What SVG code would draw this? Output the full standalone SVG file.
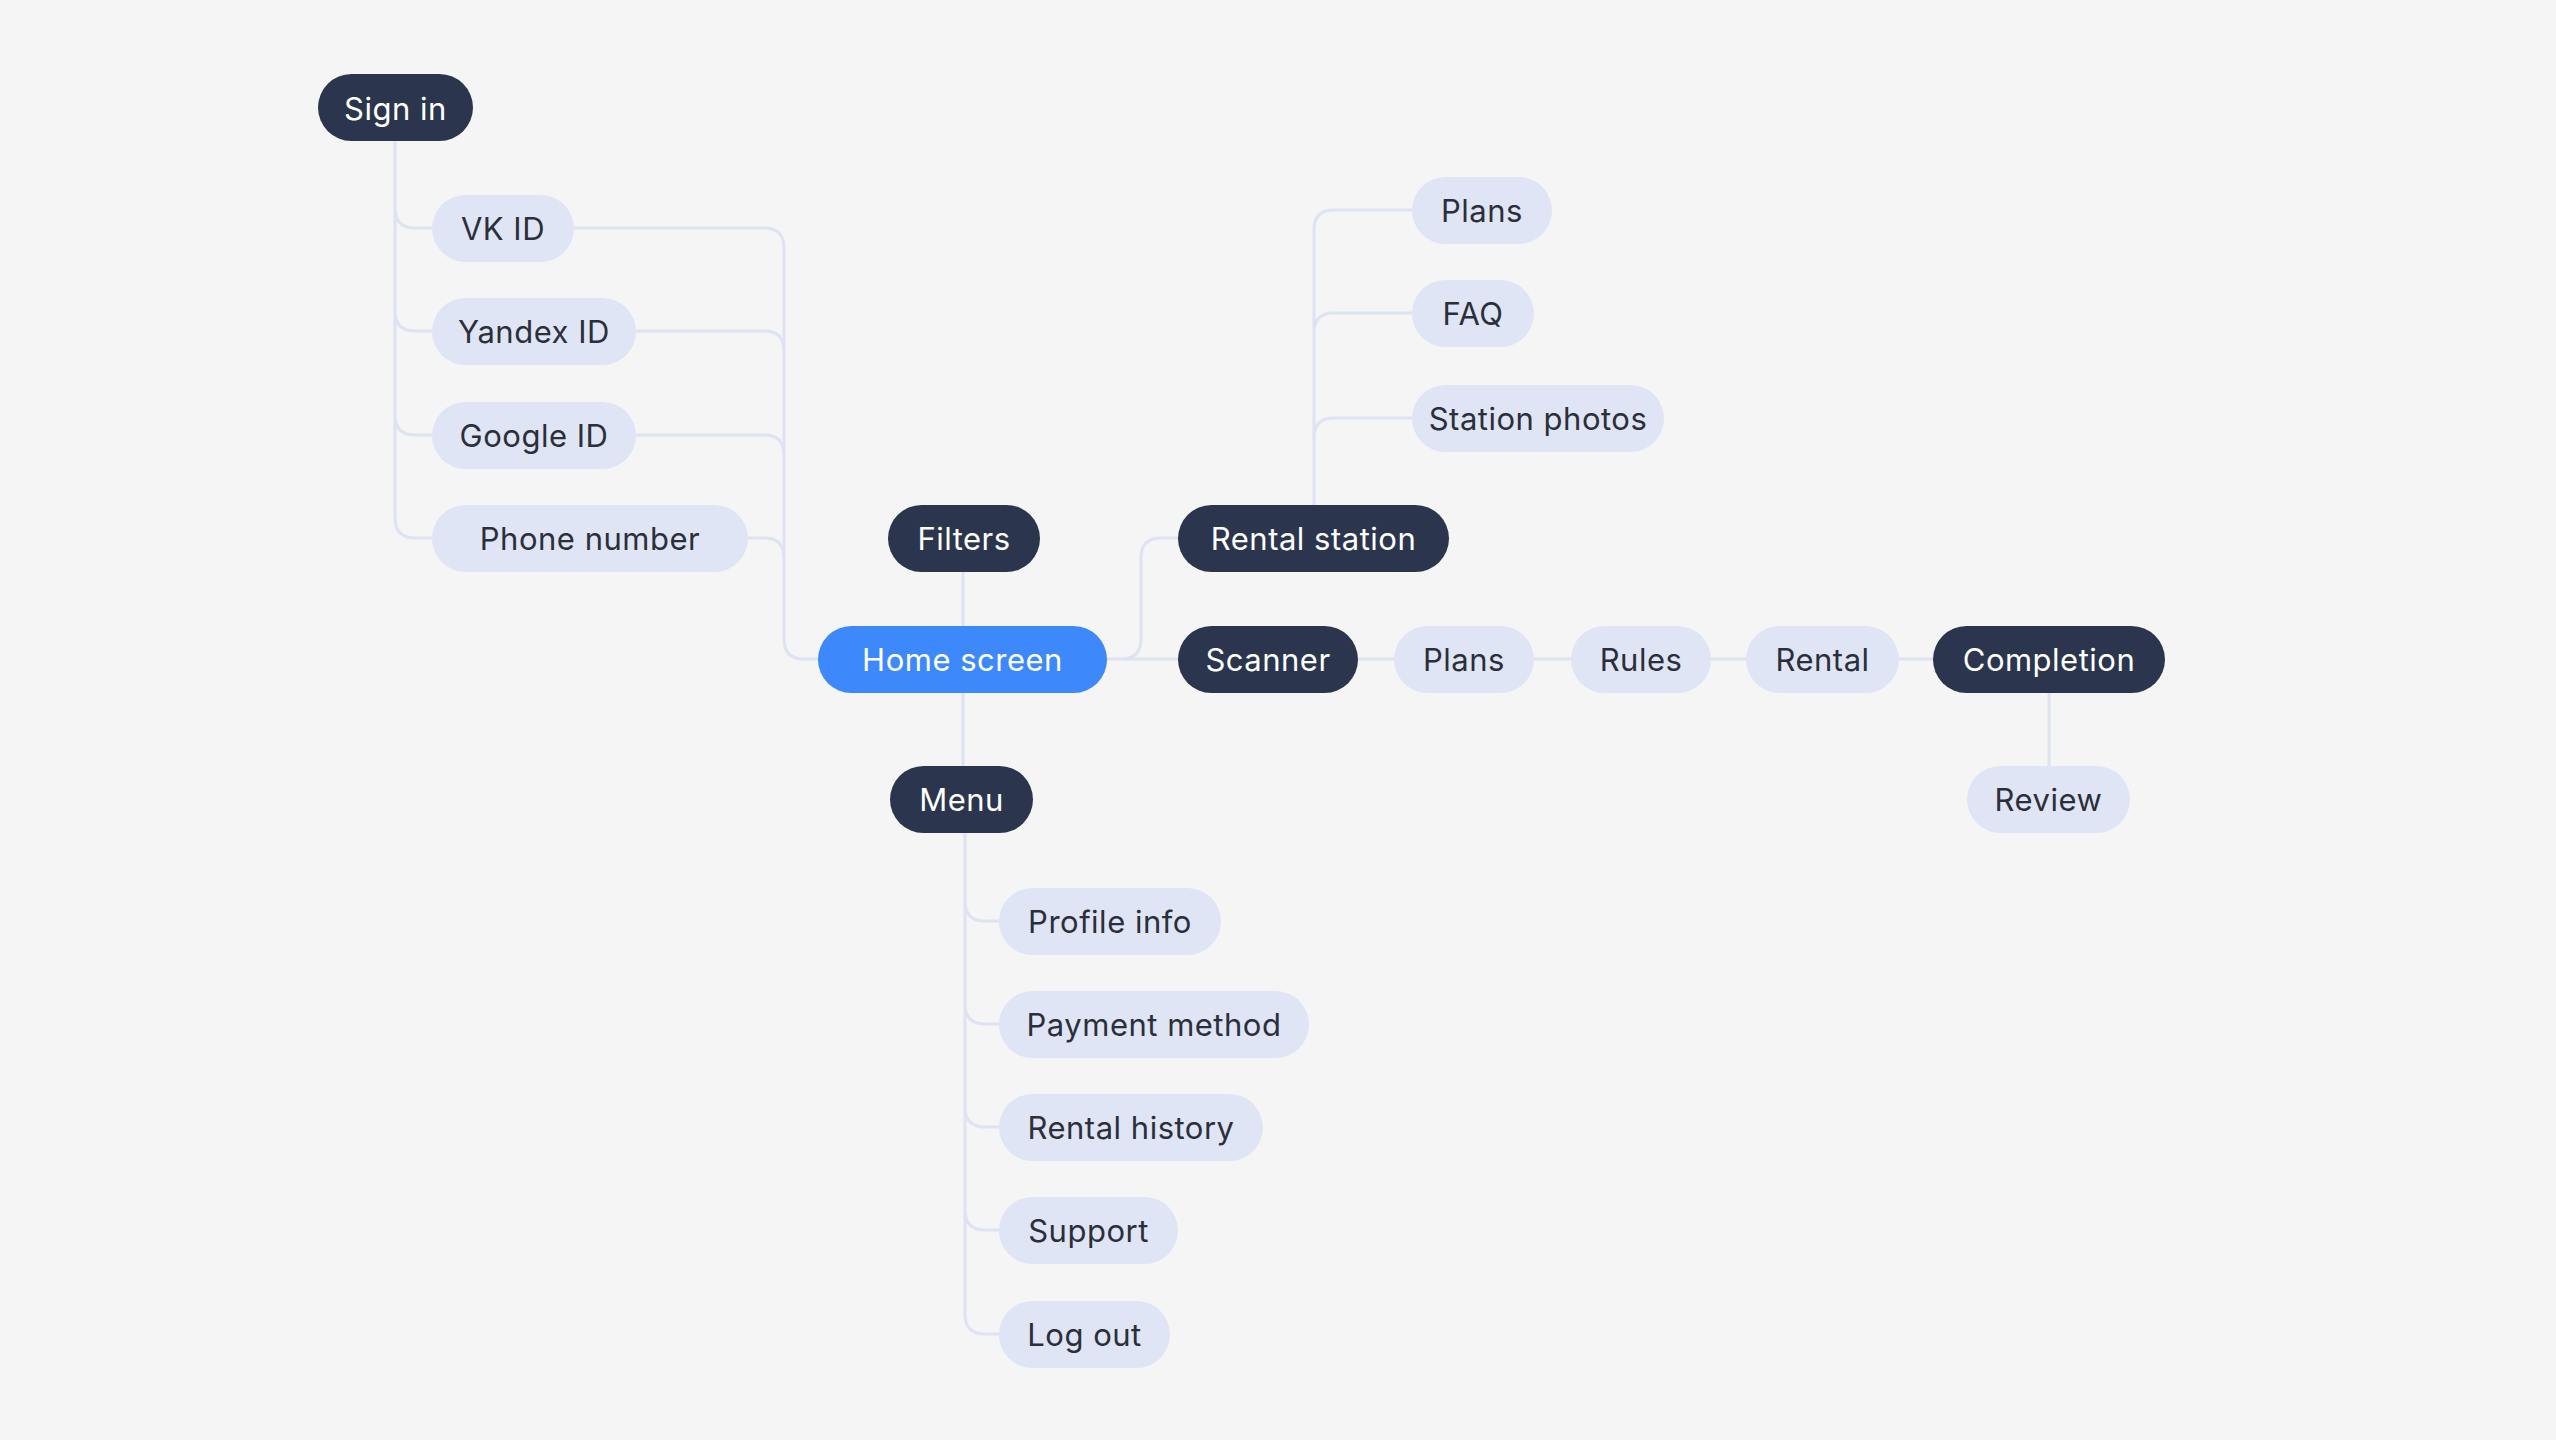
<svg xmlns="http://www.w3.org/2000/svg" width="2556" height="1440" viewBox="0 0 2556 1440">
<style>
text{font-family:Inter,"Noto Sans","Liberation Sans",sans-serif;font-size:31px;text-anchor:middle;dominant-baseline:central;letter-spacing:0.5px}
.d rect{fill:#2B364E}.d text{fill:#fff}
.l rect{fill:#DFE5F5}.l text{fill:#2B2F3A}
.b rect{fill:#3D88FA}.b text{fill:#fff}
#edges path{fill:none;stroke:#DDE3F2;stroke-width:3}
</style>
<rect width="2556" height="1440" fill="#F5F5F5"/>
<g id="edges">
<path d="M395 141V208Q395 228 415 228H432M395 208V311Q395 331 415 331H432M395 311V415Q395 435 415 435H432M395 415V518Q395 538 415 538H432"/>
<path d="M574 228H764Q784 228 784 248V639Q784 659 804 659H818"/>
<path d="M636 331H764Q784 331 784 351"/>
<path d="M636 435H764Q784 435 784 455"/>
<path d="M748 538H764Q784 538 784 558"/>
<path d="M963 571V626M963 692V766"/>
<path d="M965 832V901Q965 921 985 921H999M965 901V1004Q965 1024 985 1024H999M965 1004V1107Q965 1127 985 1127H999M965 1107V1210Q965 1230 985 1230H999M965 1210V1314Q965 1334 985 1334H999"/>
<path d="M1107 659H1178M1107 659H1121Q1141 659 1141 639V558Q1141 538 1161 538H1178"/>
<path d="M1314 505V230Q1314 210 1334 210H1412M1314 333Q1314 313 1334 313H1412M1314 438Q1314 418 1334 418H1412"/>
<path d="M1358 659H1394M1534 659H1571M1711 659H1746M1899 659H1933M2049 692V766"/>
</g>
<g id="n-signin" class="d"><rect x="318" y="74" width="155" height="67" rx="33.5"/><text x="395.5" y="108">Sign in</text></g>
<g id="n-vk" class="l"><rect x="432" y="195" width="142" height="67" rx="33.5"/><text x="503" y="228">VK ID</text></g>
<g id="n-yandex" class="l"><rect x="432" y="298" width="204" height="67" rx="33.5"/><text x="534" y="331">Yandex ID</text></g>
<g id="n-google" class="l"><rect x="432" y="402" width="204" height="67" rx="33.5"/><text x="534" y="435">Google ID</text></g>
<g id="n-phone" class="l"><rect x="432" y="505" width="316" height="67" rx="33.5"/><text x="590" y="538">Phone number</text></g>
<g id="n-filters" class="d"><rect x="888" y="505" width="152" height="67" rx="33.5"/><text x="964" y="538">Filters</text></g>
<g id="n-home" class="b"><rect x="818" y="626" width="289" height="67" rx="33.5"/><text x="962.5" y="659">Home screen</text></g>
<g id="n-station" class="d"><rect x="1178" y="505" width="271" height="67" rx="33.5"/><text x="1313.5" y="538">Rental station</text></g>
<g id="n-scanner" class="d"><rect x="1178" y="626" width="180" height="67" rx="33.5"/><text x="1268" y="659">Scanner</text></g>
<g id="n-plans2" class="l"><rect x="1394" y="626" width="140" height="67" rx="33.5"/><text x="1464" y="659">Plans</text></g>
<g id="n-rules" class="l"><rect x="1571" y="626" width="140" height="67" rx="33.5"/><text x="1641" y="659">Rules</text></g>
<g id="n-rental" class="l"><rect x="1746" y="626" width="153" height="67" rx="33.5"/><text x="1822.5" y="659">Rental</text></g>
<g id="n-completion" class="d"><rect x="1933" y="626" width="232" height="67" rx="33.5"/><text x="2049" y="659">Completion</text></g>
<g id="n-review" class="l"><rect x="1967" y="766" width="163" height="67" rx="33.5"/><text x="2048.5" y="799">Review</text></g>
<g id="n-menu" class="d"><rect x="890" y="766" width="143" height="67" rx="33.5"/><text x="961.5" y="799">Menu</text></g>
<g id="n-plans" class="l"><rect x="1412" y="177" width="140" height="67" rx="33.5"/><text x="1482" y="210">Plans</text></g>
<g id="n-faq" class="l"><rect x="1412" y="280" width="122" height="67" rx="33.5"/><text x="1473" y="313">FAQ</text></g>
<g id="n-photos" class="l"><rect x="1412" y="385" width="252" height="67" rx="33.5"/><text x="1538" y="418">Station photos</text></g>
<g id="n-profile" class="l"><rect x="999" y="888" width="222" height="67" rx="33.5"/><text x="1110" y="921">Profile info</text></g>
<g id="n-payment" class="l"><rect x="999" y="991" width="310" height="67" rx="33.5"/><text x="1154" y="1024">Payment method</text></g>
<g id="n-history" class="l"><rect x="999" y="1094" width="264" height="67" rx="33.5"/><text x="1131" y="1127">Rental history</text></g>
<g id="n-support" class="l"><rect x="999" y="1197" width="179" height="67" rx="33.5"/><text x="1088.5" y="1230">Support</text></g>
<g id="n-logout" class="l"><rect x="999" y="1301" width="171" height="67" rx="33.5"/><text x="1084.5" y="1334">Log out</text></g>
</svg>
